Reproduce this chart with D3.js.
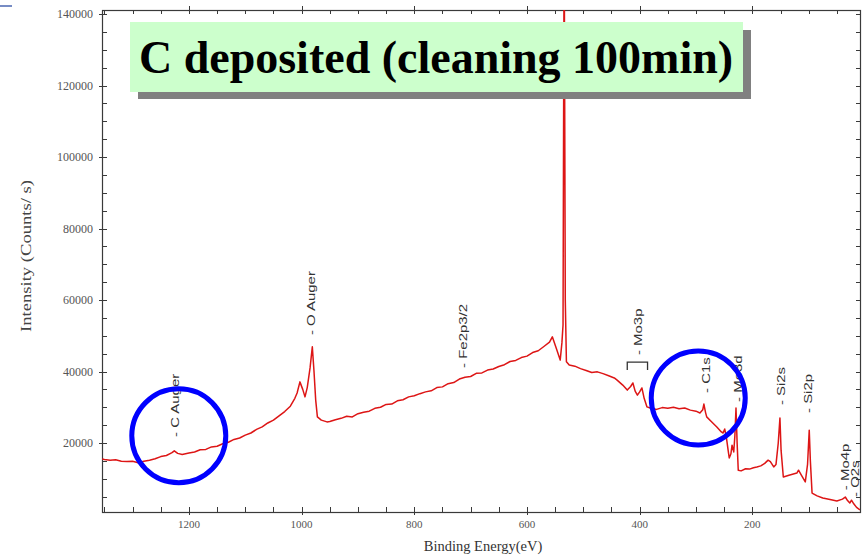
<!DOCTYPE html>
<html>
<head>
<meta charset="UTF-8">
<style>
  body { margin: 0; background: #fff; }
  text { font-family: "Liberation Serif", "Times New Roman", serif; }
</style>
</head>
<body>
<div id="chart"></div>
<script src="https://d3js.org/d3.v7.min.js"></script>
<script>

// XPS survey spectrum: binding energy (eV) and intensity (counts/s)
const energy = [1354, 1350, 1340, 1330, 1320, 1310, 1300, 1290, 1280, 1270, 1260, 1250, 1240, 1230, 1226,
  1220, 1212, 1200, 1190, 1180, 1170, 1160, 1150, 1140, 1130, 1120, 1110, 1100, 1090, 1080,
  1070, 1060, 1050, 1040, 1030, 1020, 1012, 1008, 1003, 998, 994, 990, 985, 981, 978,
  975, 972, 965, 955, 950, 940, 930, 920, 910, 900, 890, 880, 870, 860, 850,
  840, 830, 820, 810, 800, 790, 780, 770, 760, 750, 740, 730, 720, 710, 700,
  690, 680, 670, 660, 650, 640, 630, 620, 610, 600, 590, 580, 570, 560, 555,
  548, 541, 538, 536, 534, 532, 530, 525, 515, 505, 495, 485, 475, 465, 455,
  445, 440, 430, 422, 416, 412, 408, 404, 400, 396, 392, 387, 380, 370, 360,
  350, 340, 330, 320, 310, 300, 293, 288, 286, 283, 281, 272, 263, 255, 252,
  249, 246, 243, 241, 238, 236, 233, 231, 229, 227, 225, 220, 212, 205, 198,
  192, 185, 178, 172, 168, 162, 158, 154, 151, 149, 145, 135, 121, 118, 113,
  106, 102, 99, 97, 94, 85, 75, 60, 50, 40, 35, 31, 27, 24, 20,
  15, 9];
const counts = [15500, 15400, 15200, 15300, 14900, 14800, 14900, 14500, 14900, 15200, 15600, 16200, 16500, 17300, 17800,
  17100, 16800, 17200, 17500, 18100, 18200, 18900, 19100, 19800, 20200, 21000, 21400, 22200, 22800, 23800,
  24500, 25600, 26400, 27600, 28800, 30300, 32500, 34000, 37100, 35000, 32900, 35500, 41000, 46900, 40000,
  32000, 27300, 26400, 25900, 26000, 26500, 26900, 27500, 27300, 28200, 28600, 28900, 29700, 30000, 30800,
  30900, 31800, 32100, 32900, 33200, 33800, 34300, 34600, 35500, 35700, 36600, 36900, 37900, 38400, 38600,
  39500, 39600, 40400, 40700, 41400, 41900, 42800, 43100, 43900, 44300, 45300, 45800, 47000, 48200, 49700,
  46500, 43200, 48000, 53000, 165000, 60000, 42700, 41800, 41500, 40800, 40300, 39700, 39900, 39400, 38800,
  38200, 37600, 36200, 34800, 35800, 36800, 34500, 33400, 34300, 35400, 32500, 30100, 29700, 29400, 29900,
  29700, 30000, 29600, 29800, 29200, 28900, 28400, 29300, 30900, 28500, 27300, 25900, 24500, 23100, 22800,
  23900, 21500, 18000, 15800, 17000, 19400, 17500, 22000, 29800, 20000, 12400, 12200, 12800, 12700, 13100,
  13300, 13600, 14300, 15200, 14800, 13300, 14000, 20000, 27000, 18000, 10500, 11000, 11600, 12400, 11000,
  9100, 14000, 23600, 15000, 6000, 5200, 4600, 4100, 3800, 4300, 4900, 3900, 3200, 4000, 3000,
  2000, 1300];

// peak labels: name, energy, intensity where the label starts
const peakNames = ["C Auger", "O Auger", "Fe2p3/2", "Mo3p", "C1s", "Mo3d", "Si2s", "Si2p", "Mo4p", "O2s"];
const peakEnergy = [1224, 983, 713, 403, 282, 225, 149, 101, 35, 18];
const peakLevel = [21700, 50200, 41000, 44600, 34000, 31500, 30600, 28400, 6800, 4900];

// circled regions (energy, intensity of centre)
const circleEnergy = [1218, 296];
const circleCounts = [22000, 32600];

const xTickLabels = [1200, 1000, 800, 600, 400, 200];
const yTickLabels = [20000, 40000, 60000, 80000, 100000, 120000, 140000];

const W = 864, H = 557;
const pLeft = 102, pRight = 860, pTop = 10, pBottom = 512;

const svg = d3.select("#chart").append("svg")
  .attr("width", W).attr("height", H);

const x = d3.scaleLinear().domain([1354.3, 8.9]).range([pLeft, pRight]);
const y = d3.scaleLinear().domain([700, 141120]).range([pBottom, pTop]);

// slide decoration top-left
svg.append("line").attr("x1", 0).attr("x2", 12).attr("y1", 6).attr("y2", 6)
  .attr("stroke", "#4a66b0").attr("stroke-width", 1.5);

// ticks every 50 eV and 5000 counts, all drawn inward
const xMinor = d3.range(1350, 8, -50);
const yMinor = d3.range(5000, 141000, 5000);
const axisCol = "#3a3a3a";
const tk = svg.append("g").attr("stroke", axisCol).attr("stroke-width", 1);

xMinor.forEach(e => {
  const major = xTickLabels.includes(e);
  const px = Math.round(x(e)) + 0.5;
  tk.append("line").attr("x1", px).attr("x2", px)
    .attr("y1", pBottom + (major ? 3 : 0)).attr("y2", pBottom - 5);
  tk.append("line").attr("x1", px).attr("x2", px)
    .attr("y1", pTop - (major ? 4 : 0)).attr("y2", pTop + 4);
});
yMinor.forEach(v => {
  const major = yTickLabels.includes(v);
  const py = Math.round(y(v)) + 0.5;
  tk.append("line").attr("y1", py).attr("y2", py)
    .attr("x1", pLeft - (major ? 3 : 0)).attr("x2", pLeft + 5);
  tk.append("line").attr("y1", py).attr("y2", py)
    .attr("x1", pRight).attr("x2", pRight - 4);
});

// frame
svg.append("rect").attr("x", pLeft + 0.5).attr("y", pTop + 0.5)
  .attr("width", pRight - pLeft).attr("height", pBottom - pTop)
  .attr("fill", "none").attr("stroke", axisCol).attr("stroke-width", 1.2);

// tick labels
svg.append("g").selectAll("text").data(xTickLabels).enter().append("text")
  .attr("x", d => x(d)).attr("y", 528)
  .attr("text-anchor", "middle").attr("font-size", 11).attr("fill", "#555")
  .text(d => d);
svg.append("g").selectAll("text").data(yTickLabels).enter().append("text")
  .attr("x", 93).attr("y", d => y(d) + 4)
  .attr("text-anchor", "end").attr("font-size", 12).attr("fill", "#555")
  .text(d => d);

// axis titles
svg.append("text").attr("x", 483).attr("y", 551)
  .attr("text-anchor", "middle").attr("font-size", 14.5).attr("fill", "#333")
  .text("Binding Energy(eV)");
svg.append("text").attr("transform", "translate(31,256) rotate(-90)")
  .attr("text-anchor", "middle").attr("font-size", 14.5).attr("fill", "#444")
  .attr("textLength", 152).attr("lengthAdjust", "spacingAndGlyphs")
  .text("Intensity (Counts/ s)");

// spectrum
svg.append("clipPath").attr("id", "plotclip").append("rect")
  .attr("x", pLeft).attr("y", pTop).attr("width", pRight - pLeft).attr("height", pBottom - pTop);
const pts = energy.map((e, i) => [e, counts[i]]);
svg.append("path").datum(pts)
  .attr("clip-path", "url(#plotclip)")
  .attr("fill", "none").attr("stroke", "#dd1515").attr("stroke-width", 1.5)
  .attr("stroke-linejoin", "round")
  .attr("d", d3.line().x(d => x(d[0])).y(d => y(d[1])));

// peak labels, stretched along their length like the original
svg.append("g").selectAll("text").data(peakNames).enter().append("text")
  .attr("transform", (d, i) => `translate(${x(peakEnergy[i])},${y(peakLevel[i])}) rotate(-90) scale(1.3,1)`)
  .attr("dy", "0.35em").attr("font-size", 11.5).attr("fill", "#333")
  .style("font-family", "'Liberation Sans', Arial, sans-serif")
  .text(d => "- " + d);

// bracket over the two Mo3p peaks
const bx1 = x(peakEnergy[3] + 19), bx2 = x(peakEnergy[3] - 17), by = y(peakLevel[3]) + 7;
svg.append("path")
  .attr("d", `M${bx1},${by + 8}V${by}H${bx2}V${by + 8}`)
  .attr("fill", "none").attr("stroke", "#333").attr("stroke-width", 1.3);

// circles
svg.append("g").selectAll("circle").data(circleEnergy).enter().append("circle")
  .attr("cx", d => x(d)).attr("cy", (d, i) => y(circleCounts[i])).attr("r", 47)
  .attr("fill", "none").attr("stroke", "#0000ff").attr("stroke-width", 5);

// title box with shadow
svg.append("rect").attr("x", 138).attr("y", 30).attr("width", 613).attr("height", 69).attr("fill", "#808080");
svg.append("rect").attr("x", 130).attr("y", 22).attr("width", 613).attr("height", 70).attr("fill", "#ccffcc");
svg.append("text").attr("x", 436).attr("y", 73)
  .attr("text-anchor", "middle").attr("font-size", 46).attr("font-weight", "bold").attr("fill", "#000")
  .text("C deposited (cleaning 100min)");

</script>
</body>
</html>
